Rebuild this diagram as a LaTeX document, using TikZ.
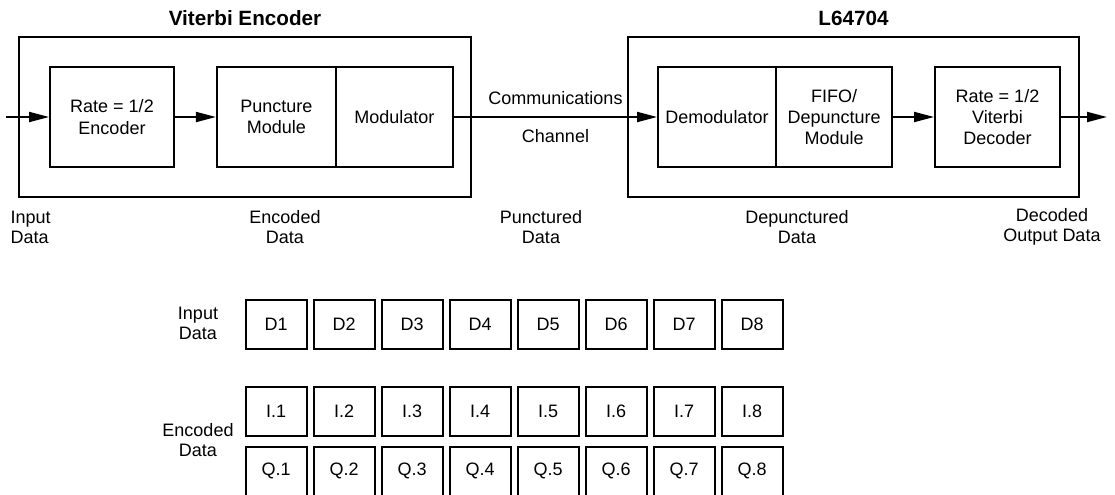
\documentclass[tikz,border=0pt]{standalone}
\usepackage{fontspec}
\setmainfont{Liberation Sans}
\usetikzlibrary{arrows.meta,positioning}

\begin{document}
\begin{tikzpicture}[x=0.75pt, y=-0.75pt, node distance=30.75pt, auto,
        every node/.style={font=\fontsize{13.5}{16}\selectfont},
        block/.style={rectangle, draw, line width=1.4pt, minimum height=75pt, align=center, inner sep=0pt},
        outer/.style={rectangle, draw, line width=1.4pt, minimum height=120pt},
        title/.style={font=\fontsize{15.5}{18}\selectfont\bfseries},
        cell/.style={rectangle, draw, line width=1.4pt, minimum width=45.75pt, minimum height=36.75pt, inner sep=0pt},
        tag/.style={align=center, font=\fontsize{13.5}{15}\selectfont},
        flow/.style={-{Triangle[length=15pt,width=7.5pt]}, line width=1.4pt}]
        \useasboundingbox (0,0) rectangle (1115,494);
        \clip (0,0) rectangle (1115,494);

        % the two chips
        \node[outer, minimum width=339pt] (vencbox) at (245,117) {};
        \node[outer, minimum width=338.25pt] (vdecbox) at (853.5,117) {};
        \node[title] (venctitle) at (245,18) {Viterbi Encoder};
        \node[title] (vdectitle) at (853.5,18) {L64704};

        \node[block, minimum width=93pt] (enc) at (112,117) {Rate = 1/2\\Encoder};
        \node[block, minimum width=89.25pt, right=of enc] (punct) {Puncture\\Module};
        \node[block, minimum width=87.85pt, right=-1.4pt of punct] (mod) {Modulator};
        \node[block, minimum width=88.5pt] (demod) at (717,117) {Demodulator};
        \node[block, minimum width=87.1pt, right=-1.4pt of demod] (fifo) {FIFO/\\Depuncture\\Module};
        \node[block, minimum width=93.75pt, right=of fifo] (vit) {Rate = 1/2\\Viterbi\\Decoder};

        \coordinate (in) at (6,117);
        \coordinate (out) at (1107,117);

        \draw[flow] (in) -- (enc);
        \draw[flow] (enc) -- (punct);
        \draw[flow] (mod) -- node[above=5pt] (chtop) {Communications} node[below=5pt] (chbot) {Channel} (demod);
        \draw[flow] (fifo) -- (vit);
        \draw[flow] (vit) -- (out);

        \node[tag, anchor=west, align=left] (inlbl) at (6,227) {Input\\Data};
        \node[tag] (enclbl) at (285,227) {Encoded\\Data};
        \node[tag] (punlbl) at (541,227) {Punctured\\Data};
        \node[tag] (deplbl) at (797,227) {Depunctured\\Data};
        \node[tag] (declbl) at (1052,227) {Decoded\\Output Data};

        % data words
        \foreach \i in {1,...,8} {
            \node[cell] (d\i) at ({276.2+(\i-1)*68},324.6) {D\i};
            \node[cell] (i\i) at ({276.2+(\i-1)*68},411.3) {I.\i};
            \node[cell] (q\i) at ({276.2+(\i-1)*68},471.3) {Q.\i};
        }
        \node[tag] (inrow) at (198,323) {Input\\Data};
        \node[tag] (encrow) at (198,440.5) {Encoded\\Data};
    \end{tikzpicture}
\end{document}
